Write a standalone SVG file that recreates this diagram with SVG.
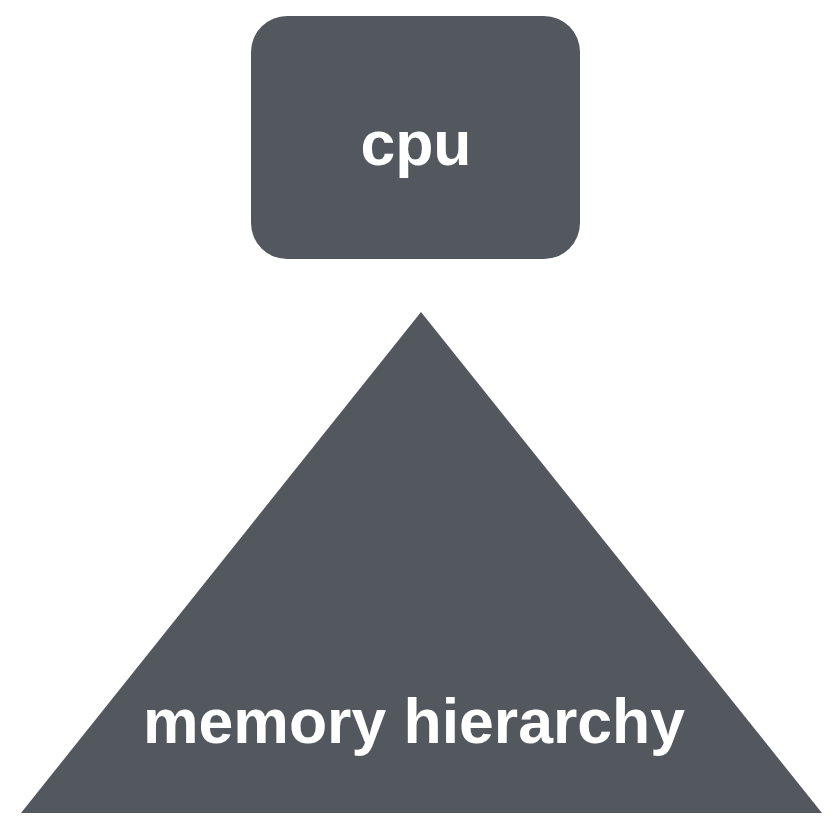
<svg xmlns="http://www.w3.org/2000/svg" width="834" height="821" viewBox="0 0 834 821">
  <style>
    .shape { fill: #53575e; }
    .label { fill: #ffffff; font-family: "Liberation Sans", Arial, sans-serif; font-weight: bold; font-size: 62.5px; text-anchor: middle; }
  </style>
  <rect width="834" height="821" fill="#ffffff"/>
  <g id="cpu">
    <rect class="shape" x="251" y="16" width="329" height="243" rx="36" ry="36"/>
    <text class="label" x="416" y="165">cpu</text>
  </g>
  <g id="memory-hierarchy">
    <polygon class="shape" points="421,312 822,813 21,813"/>
    <text class="label" x="414" y="743">memory hierarchy</text>
  </g>
  <g id="connectors"></g>
</svg>
